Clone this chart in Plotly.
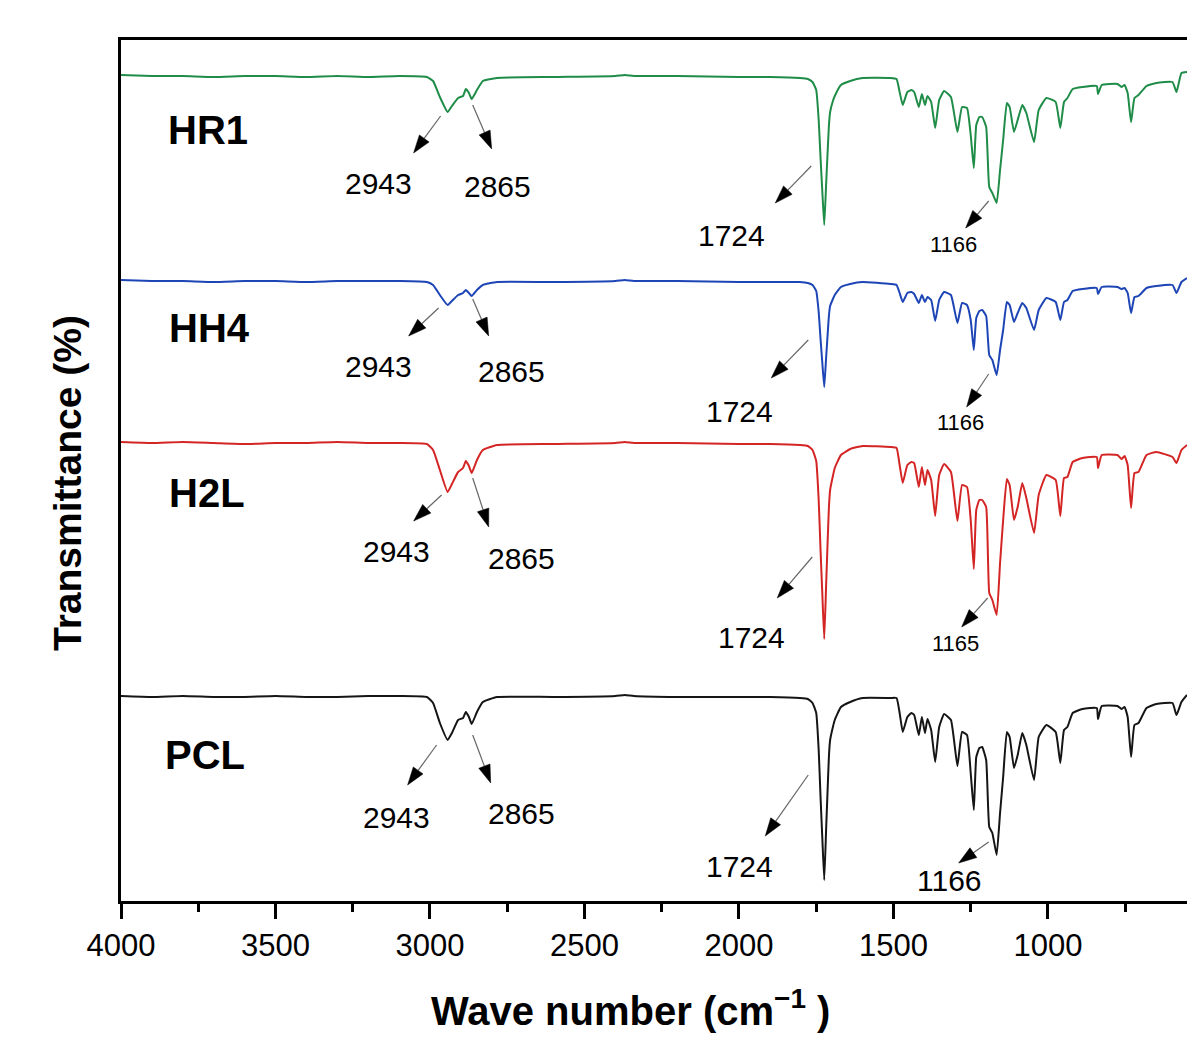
import math
import plotly.graph_objects as go

# ---------------- data ----------------
WN = [4000, 3900, 3800, 3700, 3600, 3500, 3400, 3300, 3200, 3100,
      3010, 2990, 2968, 2943, 2929, 2909, 2893, 2884, 2874, 2865,
      2848, 2829, 2783, 2600, 2400, 2370, 2340, 2200, 2000, 1900,
      1803, 1777, 1762, 1750, 1742, 1736, 1730, 1724, 1718, 1714,
      1709, 1705, 1696, 1690, 1670, 1640, 1600, 1510, 1490, 1480,
      1470, 1455, 1442, 1433, 1418, 1408, 1398, 1390, 1378, 1365,
      1352, 1336, 1314, 1293, 1278, 1262, 1250, 1240, 1232, 1222,
      1213, 1200, 1190, 1180, 1166, 1155, 1145, 1133, 1124, 1110,
      1098, 1083, 1070, 1045, 1030, 1005, 975, 960, 948, 937,
      920, 888, 842, 838, 826, 775, 762, 752, 742, 731,
      720, 707, 681, 649, 597, 584, 568, 550]

HR1 = [82.6, 82.5, 82.5, 82.4, 82.5, 82.5, 82.4, 82.5, 82.4, 82.5,
       82.4, 82.0, 80.4, 78.9, 79.5, 80.3, 80.5, 81.2, 80.8, 80.2,
       81.1, 82.0, 82.3, 82.4, 82.5, 82.6, 82.5, 82.5, 82.4, 82.4,
       82.3, 82.2, 81.9, 81.1, 78.1, 74.3, 70.8, 67.6, 71.6, 74.3,
       77.5, 78.9, 80.0, 80.5, 81.6, 82.0, 82.3, 82.3, 82.2, 80.9,
       79.6, 80.9, 81.1, 80.9, 79.4, 80.7, 79.6, 80.5, 79.9, 77.3,
       80.1, 81.0, 80.4, 76.9, 79.4, 79.3, 76.6, 73.3, 77.6, 78.4,
       78.4, 77.4, 71.4, 70.8, 69.8, 73.1, 76.1, 79.8, 79.4, 76.9,
       78.1, 79.6, 78.8, 75.9, 79.1, 80.3, 79.9, 77.3, 79.9, 80.3,
       81.2, 81.4, 81.5, 80.7, 81.6, 81.7, 81.4, 81.6, 80.8, 77.9,
       80.3, 80.6, 81.5, 81.8, 81.9, 80.9, 82.8, 82.9]

HH4 = [62.1, 62.0, 62.0, 61.9, 62.0, 62.0, 61.9, 62.0, 62.0, 62.0,
       61.9, 61.6, 60.6, 59.6, 60.0, 60.6, 60.8, 61.1, 60.8, 60.5,
       61.1, 61.6, 61.9, 61.9, 62.0, 62.1, 62.0, 62.0, 61.9, 61.9,
       61.9, 61.8, 61.6, 61.0, 58.9, 56.2, 53.7, 51.4, 54.3, 56.2,
       58.5, 59.5, 60.2, 60.6, 61.4, 61.7, 61.9, 61.7, 61.6, 60.8,
       59.9, 60.8, 60.9, 60.7, 59.8, 60.6, 59.9, 60.4, 60.1, 58.0,
       60.1, 60.9, 60.6, 57.8, 59.8, 59.6, 58.1, 55.1, 58.3, 59.0,
       59.1, 58.5, 54.6, 54.1, 52.6, 55.1, 57.1, 59.9, 59.6, 57.9,
       58.8, 59.8, 59.3, 57.1, 59.1, 60.3, 59.9, 58.1, 59.9, 60.1,
       61.0, 61.2, 61.3, 60.7, 61.4, 61.4, 61.2, 61.3, 60.8, 58.8,
       60.4, 60.5, 61.3, 61.5, 61.6, 60.8, 61.9, 62.3]

H2L = [45.9, 45.8, 45.9, 45.8, 45.7, 45.8, 45.8, 45.9, 45.8, 45.8,
       45.7, 45.1, 43.1, 40.9, 41.7, 42.9, 43.3, 44.0, 43.5, 42.8,
       44.1, 45.1, 45.6, 45.7, 45.8, 45.9, 45.8, 45.8, 45.7, 45.7,
       45.6, 45.5, 45.1, 44.0, 40.1, 35.1, 30.5, 26.2, 31.5, 35.1,
       39.3, 41.1, 42.5, 43.3, 44.6, 45.2, 45.5, 45.4, 45.3, 43.6,
       41.8, 43.6, 43.9, 43.8, 41.4, 43.4, 41.6, 43.1, 42.1, 38.5,
       42.6, 43.7, 42.9, 38.0, 41.6, 41.4, 38.1, 33.2, 39.1, 40.1,
       40.1, 39.4, 30.8, 30.1, 28.6, 33.8, 38.1, 42.2, 41.6, 38.1,
       39.4, 41.8, 40.3, 36.8, 40.6, 42.6, 42.1, 38.5, 42.3, 42.4,
       43.9, 44.3, 44.4, 43.3, 44.6, 44.6, 44.2, 44.5, 43.6, 39.3,
       42.8, 42.9, 44.6, 44.9, 44.4, 43.8, 45.1, 45.6]

PCL = [20.5, 20.4, 20.5, 20.4, 20.4, 20.5, 20.4, 20.4, 20.5, 20.5,
       20.4, 19.8, 17.8, 16.1, 16.8, 18.1, 18.3, 18.9, 18.4, 17.7,
       18.9, 19.9, 20.4, 20.4, 20.5, 20.6, 20.5, 20.4, 20.4, 20.4,
       20.3, 20.2, 19.8, 18.8, 15.1, 10.4, 6.1, 2.1, 7.1, 10.4,
       14.4, 16.1, 17.4, 18.1, 19.4, 19.9, 20.3, 20.3, 20.3, 18.8,
       16.9, 18.4, 18.8, 18.6, 16.6, 18.4, 16.8, 18.2, 17.1, 13.9,
       17.4, 18.7, 18.1, 13.5, 16.9, 16.6, 12.8, 9.1, 14.4, 15.3,
       15.4, 14.1, 7.4, 6.8, 4.6, 8.8, 12.4, 16.9, 16.4, 13.3,
       14.6, 16.8, 15.6, 12.1, 16.4, 17.6, 16.9, 13.8, 17.1, 17.4,
       18.8, 19.2, 19.3, 18.2, 19.5, 19.5, 19.2, 19.4, 18.4, 14.4,
       17.6, 17.8, 19.3, 19.7, 19.8, 18.6, 19.9, 20.6]

SERIES_NAMES = ["HR1", "HH4", "H2L", "PCL"]
PEAK_WN = [2943, 2865, 1724, 1166]
PEAK_TEXT = {
    "HR1": ["2943", "2865", "1724", "1166"],
    "HH4": ["2943", "2865", "1724", "1166"],
    "H2L": ["2943", "2865", "1724", "1165"],
    "PCL": ["2943", "2865", "1724", "1166"],
}
XTICKS = [4000, 3500, 3000, 2500, 2000, 1500, 1000]
XMINOR = [3750, 3250, 2750, 2250, 1750, 1250, 750]

# ---------------- styling / layout (not data) ----------------
series_y = {"HR1": HR1, "HH4": HH4, "H2L": H2L, "PCL": PCL}
colors = {"HR1": "#1f8c48", "HH4": "#1d45b5", "H2L": "#d42525", "PCL": "#151515"}
name_pos = {"HR1": (3718, 77.1), "HH4": (3712, 57.3), "H2L": (3722, 40.8), "PCL": (3728, 14.6)}

# screen-pixel offsets from the peak (x right, y down): tail, tip, label, font size
geom = {
    "HR1": [((-7, 4), (-34, 41), (-69, 71), 30), ((1, 6), (20, 50), (26, 87), 30),
            ((-13, -59), (-49, -22), (-93, 10), 30), ((-8, -2), (-31, 25), (-43, 41), 22)],
    "HH4": [((-9, 3), (-39, 31), (-69, 61), 30), ((1, 3), (17, 40), (40, 75), 30),
            ((-16, -47), (-53, -9), (-85, 24), 30), ((-8, -1), (-30, 32), (-36, 47), 22)],
    "H2L": [((-6, 3), (-34, 29), (-51, 59), 30), ((1, 5), (17, 54), (50, 85), 30),
            ((-12, -82), (-47, -41), (-73, -2), 30), ((-9, -17), (-35, 12), (-41, 28), 22)],
    "PCL": [((-11, 5), (-40, 45), (-51, 77), 30), ((1, 11), (19, 59), (50, 89), 30),
            ((-16, -105), (-59, -44), (-85, -14), 30), ((-8, -13), (-38, 8), (-47, 25), 30)],
}

BOLD = "Liberation Sans, Arial, sans-serif"
REG = "Liberation Sans, Arial, sans-serif"

fig = go.Figure()
for s in SERIES_NAMES:
    fig.add_trace(go.Scatter(x=WN, y=series_y[s], mode="lines", name=s,
                             line=dict(color=colors[s], width=2, shape="spline", smoothing=0.4),
                             hoverinfo="skip"))

shapes = []
annotations = []
HEAD_L, HEAD_W = 18, 12
for s in SERIES_NAMES:
    ys = series_y[s]
    for i, wn in enumerate(PEAK_WN):
        yv = ys[WN.index(wn)]
        (tx, ty), (hx, hy), (lx, ly), fs = geom[s][i]
        dx, dy = hx - tx, hy - ty
        d = math.hypot(dx, dy)
        ux, uy = dx / d, dy / d
        bx, by = hx - ux * HEAD_L, hy - uy * HEAD_L
        nx, ny = -uy, ux
        c1 = (bx + nx * HEAD_W / 2, by + ny * HEAD_W / 2)
        c2 = (bx - nx * HEAD_W / 2, by - ny * HEAD_W / 2)
        shapes.append(dict(type="line", xref="x", yref="y", xsizemode="pixel", ysizemode="pixel",
                           xanchor=wn, yanchor=yv, x0=tx, y0=-ty, x1=bx, y1=-by,
                           line=dict(color="#666666", width=1.2)))
        path = "M{:.1f},{:.1f} L{:.1f},{:.1f} L{:.1f},{:.1f} Z".format(
            hx, -hy, c1[0], -c1[1], c2[0], -c2[1])
        shapes.append(dict(type="path", xref="x", yref="y", xsizemode="pixel", ysizemode="pixel",
                           xanchor=wn, yanchor=yv, path=path, fillcolor="black",
                           line=dict(color="black", width=0.5)))
        annotations.append(dict(x=wn, y=yv, xref="x", yref="y", text=PEAK_TEXT[s][i],
                                showarrow=False, xshift=lx, yshift=-ly,
                                xanchor="center", yanchor="middle",
                                font=dict(family=REG, size=fs, color="black")))
    nx_, ny_ = name_pos[s]
    annotations.append(dict(x=nx_, y=ny_, xref="x", yref="y", text="<b>%s</b>" % s,
                            showarrow=False, xanchor="center", yanchor="middle",
                            font=dict(family=BOLD, size=40, color="black")))

annotations.append(dict(x=-0.0497, y=0.4855, xref="paper", yref="paper",
                        text="<b>Transmittance (%)</b>", textangle=-90, showarrow=False,
                        xanchor="center", yanchor="middle",
                        font=dict(family=BOLD, size=39, color="black")))
annotations.append(dict(x=0.4775, y=-0.1243, xref="paper", yref="paper",
                        text="<b>Wave number (cm<sup>\u22121</sup> )</b>", showarrow=False,
                        xanchor="center", yanchor="middle",
                        font=dict(family=BOLD, size=40, color="black")))

fig.update_layout(
    width=1187, height=1043,
    margin=dict(l=121, r=0, t=40, b=142, pad=0),
    paper_bgcolor="white", plot_bgcolor="white",
    showlegend=False,
    shapes=shapes, annotations=annotations,
    xaxis=dict(range=[4000, 550], autorange=False, tickvals=XTICKS,
               ticktext=[str(v) for v in XTICKS],
               ticks="outside", ticklen=15, tickwidth=2.5, tickcolor="black",
               showline=True, linewidth=3, linecolor="black", mirror=True,
               showgrid=False, zeroline=False,
               tickfont=dict(family=REG, size=31, color="black"),
               minor=dict(tickvals=XMINOR, ticks="outside", ticklen=8, tickwidth=2.5,
                          tickcolor="black", showgrid=False)),
    yaxis=dict(range=[0, 86.1], autorange=False, showticklabels=False, ticks="",
               showline=True, linewidth=3, linecolor="black",
               showgrid=False, zeroline=False),
)

fig.write_html("out.html")
